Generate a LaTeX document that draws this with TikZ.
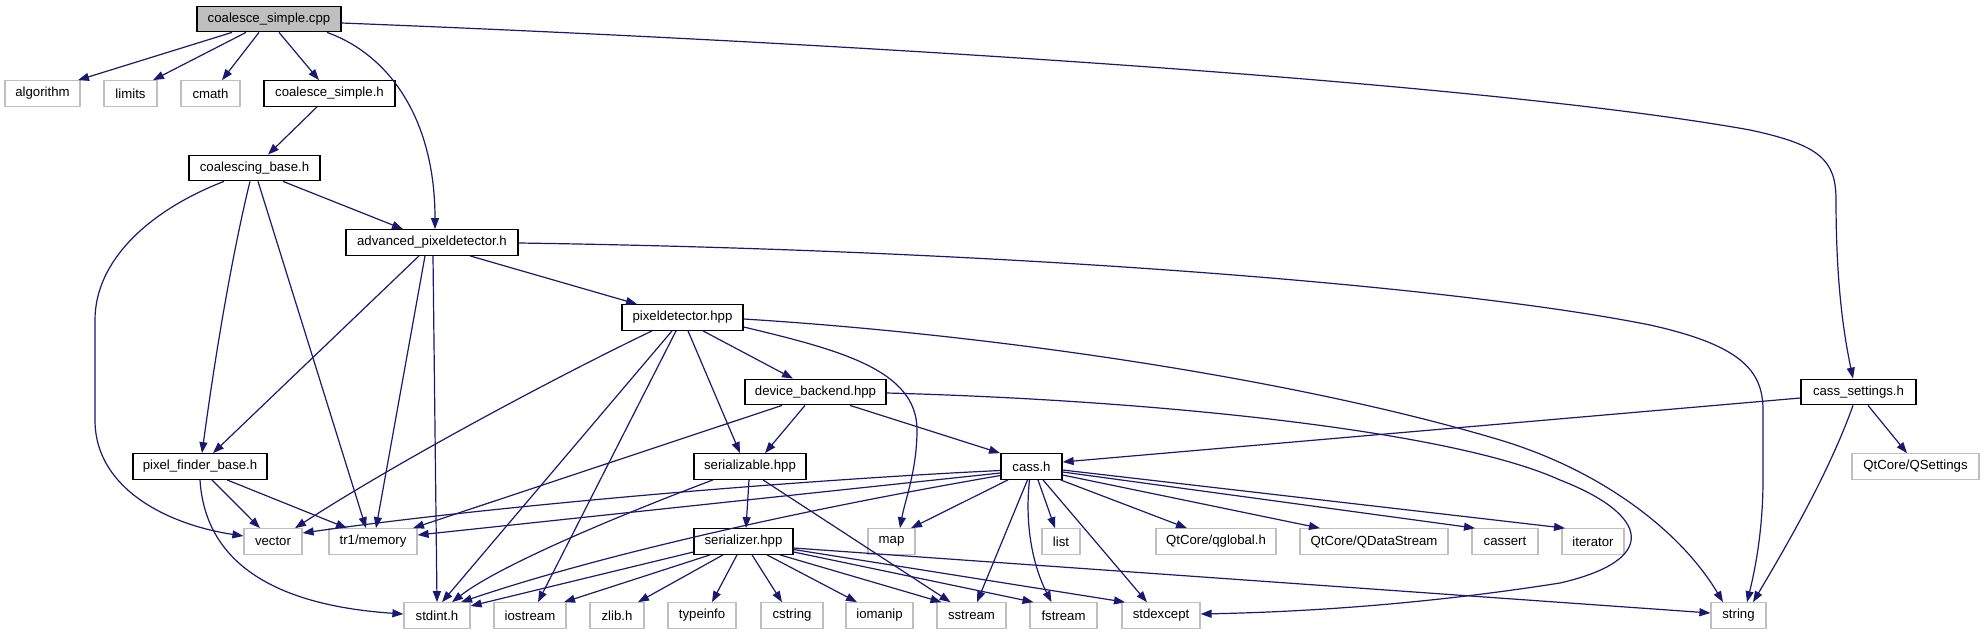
\documentclass[tikz,border=0pt]{standalone}
\usepackage{fontspec}
\setmainfont{Liberation Sans}
\usetikzlibrary{arrows.meta}
\definecolor{edgec}{HTML}{191970}
\definecolor{graybd}{HTML}{BFBFBF}
\begin{document}
\begin{tikzpicture}[x=1pt,y=-1pt,
  base/.style={rectangle, inner sep=0pt, minimum height=25.5pt, font=\fontsize{13.2}{15}\selectfont, fill=white},
  proj/.style={base, draw=black, line width=1.3pt},
  sys/.style={base, draw=graybd, line width=1.2pt},
  root/.style={base, draw=black, line width=1.3pt, fill=graybd},
  e/.style={draw=edgec, line width=1.2pt, -{Triangle[length=11pt,width=8pt]}}]
\useasboundingbox[fill=white] (0,0) rectangle (1984,635);
% nodes
\node[root, minimum width=144pt] (cpp) at (269,19) {coalesce\_simple.cpp};
\node[sys, minimum width=75pt] (algorithm) at (42.5,93.5) {algorithm};
\node[sys, minimum width=53pt] (limits) at (130.5,93.5) {limits};
\node[sys, minimum width=59pt] (cmath) at (210.5,93.5) {cmath};
\node[proj, minimum width=131pt] (csh) at (329.5,93.5) {coalesce\_simple.h};
\node[proj, minimum width=131pt] (cb) at (254.5,168) {coalescing\_base.h};
\node[proj, minimum width=172pt] (apd) at (432,242.5) {advanced\_pixeldetector.h};
\node[proj, minimum width=121pt] (pd) at (682.5,317.5) {pixeldetector.hpp};
\node[proj, minimum width=141pt] (db) at (815.5,392) {device\_backend.hpp};
\node[proj, minimum width=115pt] (cs) at (1858.5,392) {cass\_settings.h};
\node[proj, minimum width=134pt] (pfb) at (200,466.5) {pixel\_finder\_base.h};
\node[proj, minimum width=112pt] (sz) at (750,466.5) {serializable.hpp};
\node[proj, minimum width=61pt] (cass) at (1031.5,466.5) {cass.h};
\node[sys, minimum width=127pt] (qset) at (1915.5,466.5) {QtCore/QSettings};
\node[sys, minimum width=58pt] (vector) at (273,541.5) {vector};
\node[sys, minimum width=88pt] (tr1) at (373,541.5) {tr1/memory};
\node[proj, minimum width=99pt] (ser) at (743.5,541.5) {serializer.hpp};
\node[sys, minimum width=47pt] (map) at (891.5,541.5) {map};
\node[sys, minimum width=38pt] (list) at (1061,541.5) {list};
\node[sys, minimum width=120pt] (qglobal) at (1216,541.5) {QtCore/qglobal.h};
\node[sys, minimum width=148pt] (qds) at (1374,541.5) {QtCore/QDataStream};
\node[sys, minimum width=66pt] (cassert) at (1505,541.5) {cassert};
\node[sys, minimum width=62pt] (iterator) at (1593,541.5) {iterator};
\node[sys, minimum width=66pt] (stdint) at (437,615.5) {stdint.h};
\node[sys, minimum width=72pt] (iostream) at (530,615.5) {iostream};
\node[sys, minimum width=54pt] (zlib) at (617,615.5) {zlib.h};
\node[sys, minimum width=68pt] (typeinfo) at (702,615.5) {typeinfo};
\node[sys, minimum width=62pt] (cstring) at (792,615.5) {cstring};
\node[sys, minimum width=67pt] (iomanip) at (879.5,615.5) {iomanip};
\node[sys, minimum width=69pt] (sstream) at (971.5,615.5) {sstream};
\node[sys, minimum width=67pt] (fstream) at (1063.5,615.5) {fstream};
\node[sys, minimum width=78pt] (stdexcept) at (1161,615.5) {stdexcept};
\node[sys, minimum width=55pt] (string) at (1738.5,615.5) {string};
% edges from coalesce_simple.cpp
\draw[e] ([xshift=-37pt]cpp.south) -- ([xshift=35.5pt]algorithm.north);
\draw[e] ([xshift=-23pt]cpp.south) -- ([xshift=22.5pt]limits.north);
\draw[e] ([xshift=-10pt]cpp.south) -- ([xshift=11.5pt]cmath.north);
\draw[e] ([xshift=10pt]cpp.south) -- ([xshift=-10.5pt]csh.north);
\draw[e] ([xshift=58pt]cpp.south) .. controls (390,55) and (435,120) .. ([xshift=3pt]apd.north);
\draw[e] ([yshift=-4pt]cpp.east) .. controls (900,45) and (1500,85) .. (1750,130) .. controls (1820,145) and (1836,160) .. (1836,200) .. controls (1836,290) and (1845,340) .. ([xshift=-5.5pt]cs.north);
% coalesce_simple.h
\draw[e] ([xshift=-12.5pt]csh.south) -- ([xshift=13.5pt]cb.north);
% coalescing_base.h
\draw[e] ([xshift=-30.5pt]cb.south) .. controls (150,210) and (95,260) .. (95,320) -- (95,420) .. controls (95,490) and (170,525) .. ([yshift=5.5pt]vector.west);
\draw[e] ([xshift=-4.5pt]cb.south) .. controls (238,230) and (220,320) .. ([xshift=2pt]pfb.north);
\draw[e] ([xshift=3.5pt]cb.south) -- ([xshift=-7pt]tr1.north);
\draw[e] ([xshift=28.5pt]cb.south) -- ([xshift=-29pt]apd.north);
% advanced_pixeldetector.h
\draw[e] ([xshift=-13pt]apd.south) -- ([xshift=13pt]pfb.north);
\draw[e] ([xshift=-7pt]apd.south) -- ([xshift=3pt]tr1.north);
\draw[e] ([xshift=1pt]apd.south) -- (stdint.north);
\draw[e] ([xshift=38pt]apd.south) -- ([xshift=-45.5pt]pd.north);
\draw[e] ([yshift=-0.5pt]apd.east) .. controls (1000,250) and (1450,285) .. (1650,325) .. controls (1740,345) and (1763,370) .. (1763,410) -- (1763,480) .. controls (1763,530) and (1755,570) .. ([xshift=8.5pt]string.north);
% pixeldetector.hpp
\draw[e] ([xshift=-30.5pt]pd.south) .. controls (560,375) and (400,460) .. ([xshift=22pt]vector.north);
\draw[e] ([xshift=-10.5pt]pd.south) -- ([xshift=5pt]stdint.north);
\draw[e] ([xshift=-6.5pt]pd.south) -- ([xshift=8pt]iostream.north);
\draw[e] ([xshift=5.5pt]pd.south) -- ([xshift=-10pt]sz.north);
\draw[e] ([xshift=20.5pt]pd.south) -- ([xshift=-22.5pt]db.north);
\draw[e] ([yshift=-9.5pt]pd.east) .. controls (840,350) and (917,370) .. (917,430) .. controls (917,470) and (905,500) .. ([xshift=8.5pt]map.north);
\draw[e] ([yshift=-1.5pt]pd.east) .. controls (1000,335) and (1300,380) .. (1500,440) .. controls (1600,470) and (1680,530) .. ([xshift=-15.5pt]string.north);
% device_backend.hpp
\draw[e] ([xshift=-33.5pt]db.south) -- ([xshift=40pt]tr1.north);
\draw[e] ([xshift=-10.5pt]db.south) -- ([xshift=15pt]sz.north);
\draw[e] ([xshift=34.5pt]db.south) -- ([xshift=-31.5pt]cass.north);
\draw[e] ([yshift=-1pt]db.east) .. controls (1150,400) and (1450,430) .. (1560,480) .. controls (1650,515) and (1660,560) .. (1560,583) .. controls (1420,605) and (1300,612) .. ([yshift=1.5pt]stdexcept.east);
% cass_settings.h
\draw[e] ([yshift=-6pt]cs.west) -- ([yshift=4.5pt]cass.east);
\draw[e] ([xshift=9.5pt]cs.south) -- ([xshift=-8.5pt]qset.north);
\draw[e] ([xshift=-5.5pt]cs.south) .. controls (1830,470) and (1790,540) .. ([xshift=14.5pt]string.north);
% pixel_finder_base.h
\draw[e] ([xshift=12pt]pfb.south) -- ([xshift=-13pt]vector.north);
\draw[e] ([xshift=27pt]pfb.south) -- ([xshift=-26pt]tr1.north);
\draw[e] (pfb.south) .. controls (205,560) and (270,605) .. ([yshift=1.5pt]stdint.west);
% serializable.hpp
\draw[e] ([xshift=-37pt]sz.south) .. controls (620,515) and (500,565) .. ([xshift=15pt]stdint.north);
\draw[e] ([xshift=-1pt]sz.south) -- ([xshift=2.5pt]ser.north);
\draw[e] ([xshift=13pt]sz.south) -- ([xshift=-21pt]sstream.north);
% cass.h
\draw[e] ([yshift=-4pt]cass.west) .. controls (800,480) and (500,505) .. ([yshift=8.5pt]vector.east);
\draw[e] ([yshift=-6.5pt]cass.west) -- ([yshift=6.5pt]tr1.east);
\draw[e] ([yshift=-9pt]cass.west) .. controls (800,510) and (600,555) .. ([xshift=24pt]stdint.north);
\draw[e] ([xshift=-23.5pt]cass.south) -- ([xshift=19.5pt]map.north);
\draw[e] ([xshift=6.5pt]cass.south) -- ([xshift=-6pt]list.north);
\draw[e] ([xshift=-4pt]cass.south) -- ([xshift=5.5pt]sstream.north);
\draw[e] ([xshift=-2pt]cass.south) .. controls (1024,530) and (1035,570) .. ([xshift=-12pt]fstream.north);
\draw[e] ([xshift=11.5pt]cass.south) -- ([xshift=-14pt]stdexcept.north);
\draw[e] ([xshift=29pt]cass.south) -- ([xshift=-29pt]qglobal.north);
\draw[e] ([yshift=-8.5pt]cass.east) -- ([xshift=-54pt]qds.north);
\draw[e] ([yshift=-5.5pt]cass.east) -- ([xshift=-30pt]cassert.north);
\draw[e] ([yshift=-3.5pt]cass.east) -- ([xshift=-28pt]iterator.north);
% serializer.hpp
\draw[e] ([yshift=-10.5pt]ser.west) -- ([yshift=9.5pt]stdint.east);
\draw[e] ([xshift=-33.5pt]ser.south) -- ([xshift=34pt]iostream.north);
\draw[e] ([xshift=-20.5pt]ser.south) -- ([xshift=21pt]zlib.north);
\draw[e] ([xshift=-6.5pt]ser.south) -- ([xshift=10pt]typeinfo.north);
\draw[e] ([xshift=8.5pt]ser.south) -- ([xshift=-10pt]cstring.north);
\draw[e] ([xshift=23.5pt]ser.south) -- ([xshift=-22.5pt]iomanip.north);
\draw[e] ([xshift=36.5pt]ser.south) -- ([xshift=-30pt]sstream.north);
\draw[e] ([yshift=-10.5pt]ser.east) -- ([xshift=-30pt]fstream.north);
\draw[e] ([yshift=-8pt]ser.east) -- ([xshift=-36pt]stdexcept.north);
\draw[e] ([yshift=-6.5pt]ser.east) -- ([yshift=2.5pt]string.west);
\end{tikzpicture}
\end{document}
